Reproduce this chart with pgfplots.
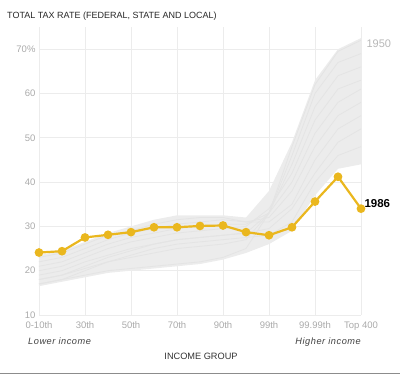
\documentclass[border=0pt]{standalone}
\usepackage{pgfplots}
\pgfplotsset{compat=1.18}
\usepackage{fontspec}
\setmainfont{Liberation Sans}
\definecolor{gold}{RGB}{234,183,30}
\definecolor{tickgray}{RGB}{170,170,170}
\definecolor{gridgray}{RGB}{236,236,236}
\definecolor{bandgray}{RGB}{236,236,236}
\definecolor{linegray}{RGB}{228,228,228}
\begin{document}
\begin{tikzpicture}[x=1pt,y=1pt]
\begin{axis}[
  name=ax,
  width=322pt, height=288pt, scale only axis,
  xmin=0, xmax=14, ymin=10, ymax=75,
  axis line style={draw=none},
  clip=false,
  xtick={0,2,...,14},
  xticklabels={0-10th,30th,50th,70th,90th,99th,99.99th,Top 400},
  ytick={10,20,...,70},
  yticklabels={10,20,30,40,50,60,70\%},
  tick style={draw=none},
  ticklabel style={font=\fontsize{9.5}{10}\selectfont, text=tickgray},
  xticklabel style={yshift=-3.5pt},
  /pgf/number format/assume math mode=true,
]
% grid
\pgfplotsinvokeforeach{10,20,...,70}{\draw[gridgray, line width=0.6pt] (axis cs:0,#1) -- (axis cs:14,#1);}
\pgfplotsinvokeforeach{0,2,...,14}{\draw[gridgray, line width=0.6pt] (axis cs:#1,10) -- (axis cs:#1,75);}
% band of all years
\addplot[fill=bandgray, draw=none] coordinates {
 (0,16.5) (1,17.5) (2,18.5) (3,19.5) (4,20) (5,20.5) (6,21) (7,21.5) (8,22.5) (9,24) (10,26) (11,29) (12,37) (13,43) (14,44)
 (14,72.5) (13,70) (12,63) (11,49) (10,38) (9,32) (8,32.5) (7,32.5) (6,32.5) (5,31.5) (4,30) (3,28.5) (2,26.5) (1,24.5) (0,23.5)
} -- cycle;
% individual years (light lines)
\addplot[linegray, line width=0.8pt] coordinates {(0,17) (1,18) (2,19) (3,20) (4,20.5) (5,21) (6,21.5) (7,22) (8,23) (9,25) (10,33) (11,48) (12,62) (13,69.5) (14,72)};
\addplot[linegray, line width=0.8pt] coordinates {(0,18) (1,19) (2,20.5) (3,22) (4,23) (5,24) (6,25) (7,25.5) (8,26) (9,27) (10,33) (11,46) (12,60) (13,67) (14,69)};
\addplot[linegray, line width=0.8pt] coordinates {(0,19) (1,20) (2,22) (3,23.5) (4,25) (5,26) (6,27) (7,27.5) (8,28) (9,28.5) (10,33) (11,44) (12,57) (13,64) (14,66)};
\addplot[linegray, line width=0.8pt] coordinates {(0,20) (1,21) (2,23) (3,25) (4,26.5) (5,27.5) (6,28.5) (7,29) (8,29.5) (9,30) (10,34) (11,42) (12,54) (13,61) (14,63)};
\addplot[linegray, line width=0.8pt] coordinates {(0,21) (1,22) (2,24) (3,26) (4,27.5) (5,28.5) (6,29.5) (7,30) (8,30.5) (9,30.5) (10,33) (11,40) (12,51) (13,58) (14,61)};
\addplot[linegray, line width=0.8pt] coordinates {(0,22) (1,23) (2,25) (3,27) (4,28.5) (5,29.5) (6,30.5) (7,31) (8,31.5) (9,31) (10,32) (11,38) (12,48) (13,55) (14,58)};
\addplot[linegray, line width=0.8pt] coordinates {(0,23) (1,24) (2,26) (3,28) (4,29) (5,30.5) (6,31.5) (7,32) (8,32) (9,31) (10,31) (11,35) (12,45) (13,52) (14,55)};
\addplot[linegray, line width=0.8pt] coordinates {(0,17) (1,18) (2,20) (3,22) (4,23.5) (5,25) (6,26) (7,26.5) (8,27) (9,27.5) (10,28) (11,31) (12,40) (13,46) (14,48)};
\addplot[linegray, line width=0.8pt] coordinates {(0,18) (1,19) (2,21) (3,23) (4,24.5) (5,26) (6,27) (7,27.5) (8,28) (9,28.5) (10,29.5) (11,34) (12,42) (13,49) (14,52)};
% 1986
\addplot[gold, line width=2.2pt, mark=*, mark size=3.2pt, mark options={fill=gold, draw=gold}] coordinates {
 (0,24.1) (1,24.4) (2,27.5) (3,28.1) (4,28.7) (5,29.8) (6,29.8) (7,30.1) (8,30.2) (9,28.7) (10,28.0) (11,29.8) (12,35.6) (13,41.2) (14,34.0)
};
\node[anchor=west, font=\fontsize{11}{12}\selectfont, text=tickgray!85] at (axis cs:14,71.2) {\hspace{2pt}1950};
\node[anchor=west, font=\bfseries\fontsize{11.5}{12}\selectfont, text=black] at (axis cs:14,35.1) {\hspace{0pt}1986};
\end{axis}
\coordinate (O) at ([shift={(-39,-60)}]ax.south west);
\node[anchor=base west, inner sep=0pt, font=\fontsize{9}{11}\selectfont, text=black!85] at ([shift={(7,356.5)}]O) {TOTAL TAX RATE (FEDERAL, STATE AND LOCAL)};
\node[anchor=base west, inner sep=0pt, font=\itshape\addfontfeature{LetterSpace=6}\fontsize{9.2}{10}\selectfont, text=black!75] at ([shift={(28,30.5)}]O) {Lower income};
\node[anchor=base east, inner sep=0pt, font=\itshape\addfontfeature{LetterSpace=6}\fontsize{9.2}{10}\selectfont, text=black!75] at ([shift={(361,30.5)}]O) {Higher income};
\node[anchor=base, inner sep=0pt, font=\fontsize{9.2}{11}\selectfont, text=black!80] at ([shift={(201,15.5)}]O) {INCOME GROUP};
\draw[black!45, line width=1pt] ([shift={(0,1.5)}]O) -- ([shift={(400,1.5)}]O);
\pgfresetboundingbox
\path[use as bounding box] (O) rectangle ([shift={(400,375)}]O);
\end{tikzpicture}
\end{document}
